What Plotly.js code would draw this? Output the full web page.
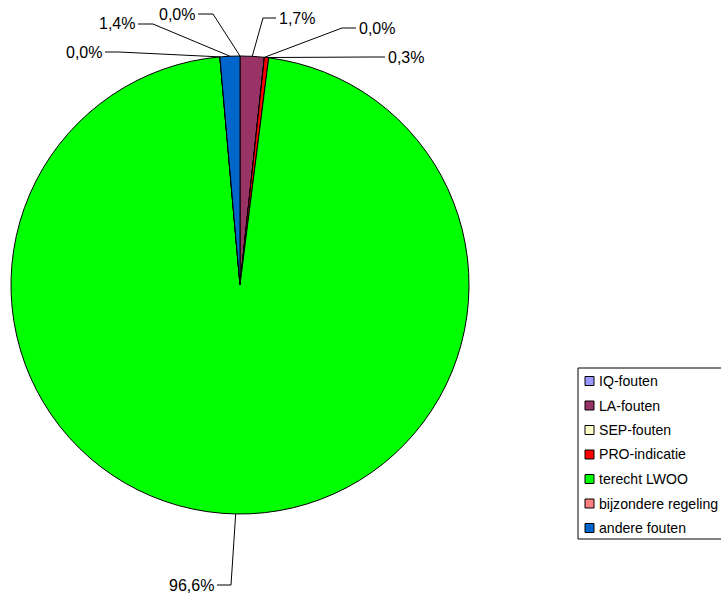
<!DOCTYPE html>
<html>
<head>
<meta charset="utf-8">
<script src="https://cdn.plot.ly/plotly-3.0.1.min.js"></script>
<style>html,body{margin:0;padding:0;background:#fff;}#chart{width:721px;height:595px;}</style>
</head>
<body>
<div id="chart"></div>
<script>
// ---- data ----
const categories = ["IQ-fouten", "LA-fouten", "SEP-fouten", "PRO-indicatie", "terecht LWOO", "bijzondere regeling", "andere fouten"];
const values = [0.0, 1.7, 0.0, 0.3, 96.6, 0.0, 1.4];
const colors = ["#9999FF", "#993366", "#FFFFCC", "#FF0000", "#00FF00", "#FF8080", "#0066CC"];

// ---- layout constants (pixels) ----
const W = 721, H = 595;
const CX = 240, CY = 285, R = 229;
// label text positions / elbows per slice (pixel coords)
const labelPos = [
  {tx: 197, ty: 14, anchor: "right", ex: 213, ey: 14},
  {tx: 277, ty: 18, anchor: "left",  ex: 263, ey: 18},
  {tx: 357, ty: 28, anchor: "left",  ex: 342, ey: 28},
  {tx: 386, ty: 58, anchor: "left",  ex: 370, ey: 57},
  {tx: 216, ty: 585, anchor: "right", ex: 231, ey: 585},
  {tx: 104, ty: 52, anchor: "right", ex: 119, ey: 52},
  {tx: 137, ty: 24, anchor: "right", ex: 153, ey: 24}
];

const px = x => x / W;
const py = y => 1 - y / H;
const FONT = "Liberation Sans, Arial, sans-serif";

const total = values.reduce((a, b) => a + b, 0);
const annotations = [];
const shapes = [];
let cum = 0;
values.forEach((v, i) => {
  const mid = (cum + v / 2) / total * 2 * Math.PI;
  cum += v;
  const ax = CX + R * Math.sin(mid), ay = CY - R * Math.cos(mid);
  const lp = labelPos[i];
  const txt = (v / total * 100).toFixed(1).replace(".", ",") + "%";
  const gap = lp.anchor === "right" ? 1 : -1;
  annotations.push({
    xref: "paper", yref: "paper", x: px(lp.tx), y: py(lp.ty),
    xanchor: lp.anchor, yanchor: "middle", text: txt, showarrow: false,
    font: {family: FONT, size: 16, color: "#000"}
  });
  shapes.push({
    type: "path", xref: "paper", yref: "paper",
    path: `M${px(lp.tx + gap)},${py(lp.ey)} L${px(lp.ex)},${py(lp.ey)} L${px(ax)},${py(ay)}`,
    line: {color: "#000", width: 1}
  });
});

// custom legend
const LX = 578, LY = 368, LW = 160, LH = 171, ROW = 24.5, FIRST = 381;
shapes.push({type: "rect", xref: "paper", yref: "paper", x0: px(LX), x1: px(LX + LW), y0: py(LY), y1: py(LY + LH), line: {color: "#000", width: 1}, fillcolor: "rgba(0,0,0,0)"});
categories.forEach((c, i) => {
  const yc = FIRST + i * ROW;
  shapes.push({type: "rect", xref: "paper", yref: "paper", x0: px(585), x1: px(594), y0: py(yc - 4.5), y1: py(yc + 4.5), line: {color: "#000", width: 1}, fillcolor: colors[i]});
  annotations.push({xref: "paper", yref: "paper", x: px(596.5), y: py(yc), xanchor: "left", yanchor: "middle", text: c, showarrow: false, font: {family: FONT, size: 14.1, color: "#000"}});
});

const trace = {
  type: "pie",
  labels: categories,
  values: values,
  sort: false,
  direction: "clockwise",
  rotation: 0,
  textinfo: "none",
  hoverinfo: "none",
  marker: {colors: colors, line: {color: "#000", width: 1}},
  domain: {x: [px(CX - R), px(CX + R)], y: [py(CY + R), py(CY - R)]}
};

Plotly.newPlot("chart", [trace], {
  width: W, height: H,
  margin: {l: 0, r: 0, t: 0, b: 0},
  showlegend: false,
  paper_bgcolor: "#fff",
  annotations: annotations,
  shapes: shapes
}, {staticPlot: true});
</script>
</body>
</html>
